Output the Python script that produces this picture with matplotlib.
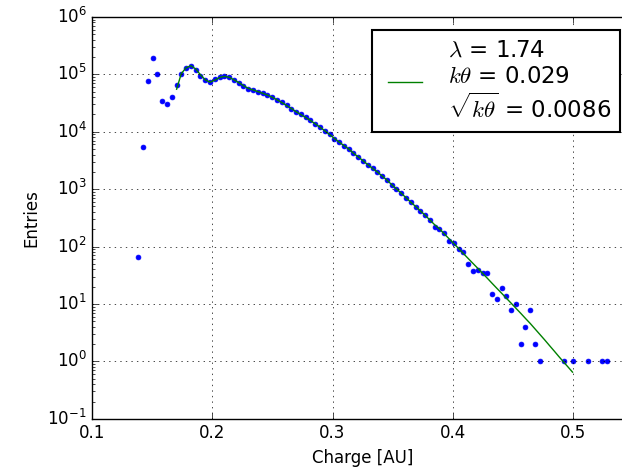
import numpy as np
import matplotlib
matplotlib.use('Agg')
from matplotlib import pyplot as plt

plt.style.use('classic')

# histogram bin centres (non-empty bins only)
charge = [0.1382, 0.1422, 0.1462, 0.1501, 0.1541, 0.1581, 0.1621, 0.1661, 0.1701, 0.1740,
          0.1780, 0.1820, 0.1860, 0.1900, 0.1940, 0.1979, 0.2019, 0.2059, 0.2099, 0.2139,
          0.2179, 0.2218, 0.2258, 0.2298, 0.2338, 0.2378, 0.2418, 0.2457, 0.2497, 0.2537,
          0.2577, 0.2617, 0.2657, 0.2696, 0.2736, 0.2776, 0.2816, 0.2856, 0.2896, 0.2935,
          0.2975, 0.3015, 0.3055, 0.3095, 0.3135, 0.3174, 0.3214, 0.3254, 0.3294, 0.3334,
          0.3374, 0.3413, 0.3453, 0.3493, 0.3533, 0.3573, 0.3612, 0.3652, 0.3692, 0.3732,
          0.3772, 0.3812, 0.3851, 0.3891, 0.3931, 0.3971, 0.4011, 0.4051, 0.4090, 0.4130,
          0.4170, 0.4210, 0.4250, 0.4290, 0.4329, 0.4369, 0.4409, 0.4449, 0.4489, 0.4529,
          0.4568, 0.4608, 0.4648, 0.4688, 0.4728,
          0.4927, 0.5007, 0.5126, 0.5246, 0.5285]

entries = [66, 5500, 76000, 190000, 101000, 34000, 30500, 41000, 66000, 100000,
           128000, 137000, 120000, 95000, 80000, 73000, 82000, 89000, 92000, 89000,
           80000, 72000, 63000, 56000, 53500, 50000, 47000, 44000, 40000, 36000,
           32300, 28700, 25300, 22200, 20000, 17900, 15700, 13700, 12000, 10400,
           9100, 7500, 6600, 5750, 5040, 4240, 3600, 3150, 2650, 2350,
           2000, 1710, 1450, 1190, 1000, 850, 700, 594, 498, 419,
           352, 286, 223, 201, 171, 127, 115, 91, 80, 49,
           37, 39, 34, 34, 15, 12, 19, 14, 8, 10,
           2, 4, 8, 2, 1,
           1, 1, 1, 1, 1]

# fit curve, evaluated from 0.17 to 0.5
fit_x = charge[8:85] + [0.4768, 0.4807, 0.4847, 0.4887, 0.4927, 0.4967, 0.5]
fit_y = [55000, 103000, 130000, 141000, 124000, 98000, 80000, 73000, 79000, 88000,
         92000, 89000, 80000, 72000, 63500, 57000, 53500, 50000, 46800, 43500,
         40000, 36000, 32300, 28700, 25400, 22300, 19900, 17800, 15700, 13700,
         12000, 10400, 9000, 7650, 6600, 5750, 5000, 4250, 3650, 3130,
         2670, 2300, 1990, 1700, 1440, 1200, 1010, 850, 710, 595,
         500, 420, 350, 290, 240, 203, 167, 137, 113, 92.5,
         75.9, 62.2, 51.0, 41.9, 34.3, 28.1, 23.0, 18.8, 15.4, 12.6,
         10.3, 8.4, 6.9, 5.6, 4.57, 3.67, 2.95,
         2.37, 1.90, 1.52, 1.21, 0.97, 0.78, 0.65]

lam = 1.74
ktheta = 0.029
sqrt_ktheta = 0.0086

fig = plt.figure(figsize=(6.22, 4.72), dpi=100)
# axes run a little past the right edge of the picture (cropped figure)
ax = fig.add_axes([0.1487, 0.1127, 0.8682, 0.8515])

ax.plot(charge, entries, 'b.', ms=7)
ax.plot(fit_x, fit_y, 'g-',
        label='$\\lambda$ = %.2f\n$k\\theta$ = %.3f\n$\\sqrt{k\\theta}$ = %.4f'
        % (lam, ktheta, sqrt_ktheta))

ax.set_yscale('log')
ax.set_xlim(0.1, 0.55)
ax.set_ylim(1e-1, 1e6)
ax.set_xticks([0.1, 0.2, 0.3, 0.4, 0.5])
ax.grid(True)
ax.set_xlabel('Charge [AU]')
ax.set_ylabel('Entries')
leg = ax.legend(loc='upper right', fontsize=16.5, borderaxespad=0.55,
                handlelength=2.1)
leg.get_frame().set_linewidth(1.5)

fig.savefig('out.png', dpi=100)
